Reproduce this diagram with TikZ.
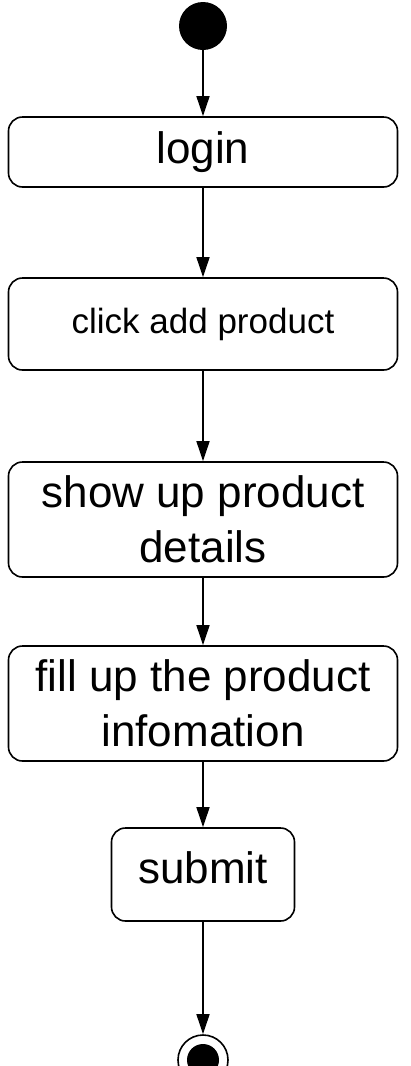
\documentclass[tikz,border=0pt]{standalone}
\usepackage{fontspec}
\setmainfont{Liberation Sans}
\usetikzlibrary{arrows.meta,positioning}

\begin{document}
\begin{tikzpicture}[
  x=1pt, y=1pt,
  % Activity box style
  activity/.style={
    rectangle,
    draw=black,
    line width=1.6pt,
    rounded corners=14pt,
    minimum width=389pt,
    align=center,
    inner sep=0pt,
    font=\fontsize{44}{55}\selectfont
  },
  % Start and end states
  startstate/.style={
    circle,
    fill=black,
    minimum size=48pt,
    inner sep=0pt
  },
  endstate/.style={
    circle,
    draw=black,
    line width=1.6pt,
    minimum size=50pt,
    inner sep=0pt,
    path picture={\fill[black] (path picture bounding box.center) circle (16pt);}
  },
  % Arrow style
  arrow/.style={
    -{Triangle[length=20pt,width=13pt]},
    line width=1.4pt,
    draw=black
  }
]
\useasboundingbox (0,0) rectangle (410,-1066);

% === NODES ===
\node[startstate] (start) at (203,-26) {};
\node[activity, minimum height=70pt] (login) at (203,-152) {login};
\node[activity, minimum height=92pt, font=\fontsize{35}{42}\selectfont] (click) at (203,-324) {click add product};
\node[activity, minimum height=115pt] (show) at (203,-519.5) {show up product\\details};
\node[activity, minimum height=115pt] (fill) at (203,-703.5) {fill up the product\\infomation};
\node[activity, minimum width=183pt, minimum height=93pt, text depth=14pt] (submit) at (203,-874.5) {submit};
\node[endstate] (end) at (203,-1060) {};

% === ARROWS ===
\draw[arrow] (start.south) -- (login.north);
\draw[arrow] (login.south) -- (click.north);
\draw[arrow] (click.south) -- (show.north);
\draw[arrow] (show.south) -- (fill.north);
\draw[arrow] (fill.south) -- (submit.north);
\draw[arrow] (submit.south) -- (end.north);

\end{tikzpicture}
\end{document}
